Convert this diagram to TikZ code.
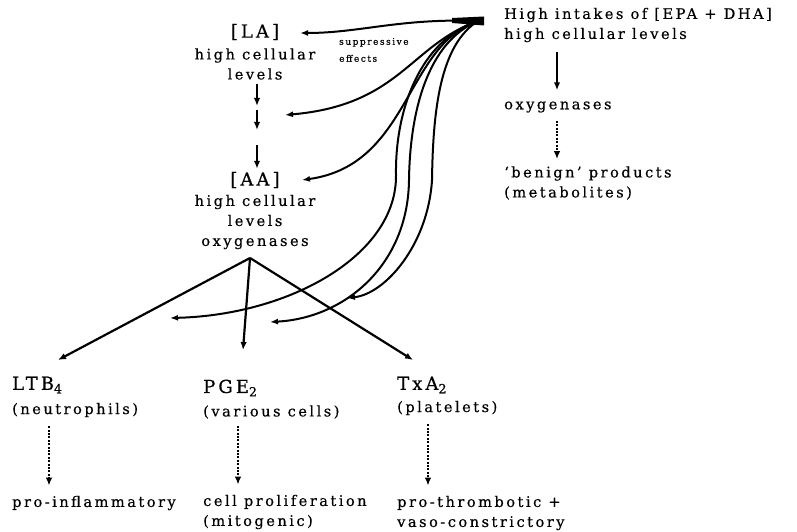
\documentclass[tikz,border=0pt]{standalone}
\usepackage{fontspec}
\setmainfont{DejaVu Serif}[LetterSpace=17,FakeBold=0.4]
\usetikzlibrary{arrows.meta}
\begin{document}
\begin{tikzpicture}[x=1pt,y=-1pt, every node/.style={font=\fontsize{14.6}{20}\selectfont,inner sep=1pt},
  big/.style={font=\fontsize{18}{22}\selectfont},
  txt/.style={anchor=west,align=left},
  tiny/.style={anchor=west,align=left,font=\fontsize{9}{17}\selectfont},
  arr/.style={-{Latex[length=8pt,width=6.5pt]},line width=2.2pt},
  dotarr/.style={arr,line width=2.4pt,dash pattern=on 2pt off 1.4pt},
  curv/.style={-{Latex[length=8pt,width=6pt]},line width=2pt}]
\useasboundingbox (0,0) rectangle (797,532);
\node[big] (la) at (255,32) {[LA]};
\node[align=center] (lacell) at (255,64) {high cellular\\levels};
\node[big] (aa) at (255,180) {[AA]};
\node[align=center] (aacell) at (255,222) {high cellular\\levels\\oxygenases};
\node[tiny] (supp) at (338,50) {suppressive\\effects};
\node[txt] (intake) at (503,25) {High intakes of [EPA + DHA]\\high cellular levels};
\node[txt] (oxy) at (503,107) {oxygenases};
\node[txt] (benign) at (503,183) {‘benign’ products\\(metabolites)};
\node[txt,big] (ltb) at (11,385) {LTB\textsubscript{4}};
\node[txt] (neut) at (11,410) {(neutrophils)};
\node[txt] (proinf) at (11,503) {pro-inflammatory};
\node[txt,big] (pge) at (202,388) {PGE\textsubscript{2}};
\node[txt] (cells) at (202,412) {(various cells)};
\node[txt] (prolif) at (202,512) {cell proliferation\\(mitogenic)};
\node[txt,big] (txa) at (396,385) {TxA\textsubscript{2}};
\node[txt] (plate) at (396,408) {(platelets)};
\node[txt] (throm) at (396,513) {pro-thrombotic +\\vaso-constrictory};
\coordinate (s1) at (257,106);
\coordinate (s2) at (257,110);
\coordinate (s3) at (257,130);
\coordinate (s4) at (257,145);
\coordinate (apex) at (250,258);
\coordinate (ltbin) at (58,360);
\coordinate (pgein) at (243,350);
\coordinate (txain) at (413,360);
\coordinate (src) at (478,21);
\coordinate (tla) at (300,33);
\coordinate (tmid) at (285,115);
\coordinate (taa) at (302,180);
\coordinate (tl) at (170,318);
\coordinate (tm) at (270,322);
\coordinate (tr) at (347,298);
\draw[arr,shorten <=3pt] (lacell.south -| s1) -- (s1);
\draw[arr] (s2) -- (s3);
\draw[arr,shorten >=2pt] (s4) -- (aa.north -| s4);
\draw[arr] (apex) -- (ltbin);
\draw[arr] (apex) -- (pgein);
\draw[arr] (apex) -- (txain);
\draw[dotarr,shorten <=8pt,shorten >=9pt] (neut.south -| 49,0) -- (proinf.north -| 49,0);
\draw[dotarr,shorten <=6pt,shorten >=9pt] (cells.south -| 238,0) -- (prolif.north -| 238,0);
\draw[dotarr,shorten <=8pt,shorten >=9pt] (plate.south -| 428,0) -- (throm.north -| 428,0);
\draw[arr,shorten <=9pt,shorten >=10pt] (intake.south -| 557,0) -- (oxy.north -| 557,0);
\draw[dotarr,shorten <=7pt,shorten >=6pt] (oxy.south -| 557,0) -- (benign.north -| 557,0);
\fill (452,18) -- (484,16.5) -- (484,25.5) -- (452,23) -- cycle;
\draw[curv] (src) .. controls (400,18) and (360,33) .. (tla);
\draw[curv] (src) .. controls (410,45) and (400,105) .. (tmid);
\draw[curv] (src) .. controls (405,45) and (410,165) .. (taa);
\draw[curv] (src) .. controls (420,40) and (395,110) .. (396,175) .. controls (397,255) and (290,315) .. (tl);
\draw[curv] (src) .. controls (428,42) and (410,110) .. (409,180) .. controls (408,265) and (345,318) .. (tm);
\draw[curv] (src) .. controls (440,45) and (433,110) .. (432,180) .. controls (428,245) and (385,294) .. (tr);
\end{tikzpicture}
\end{document}
